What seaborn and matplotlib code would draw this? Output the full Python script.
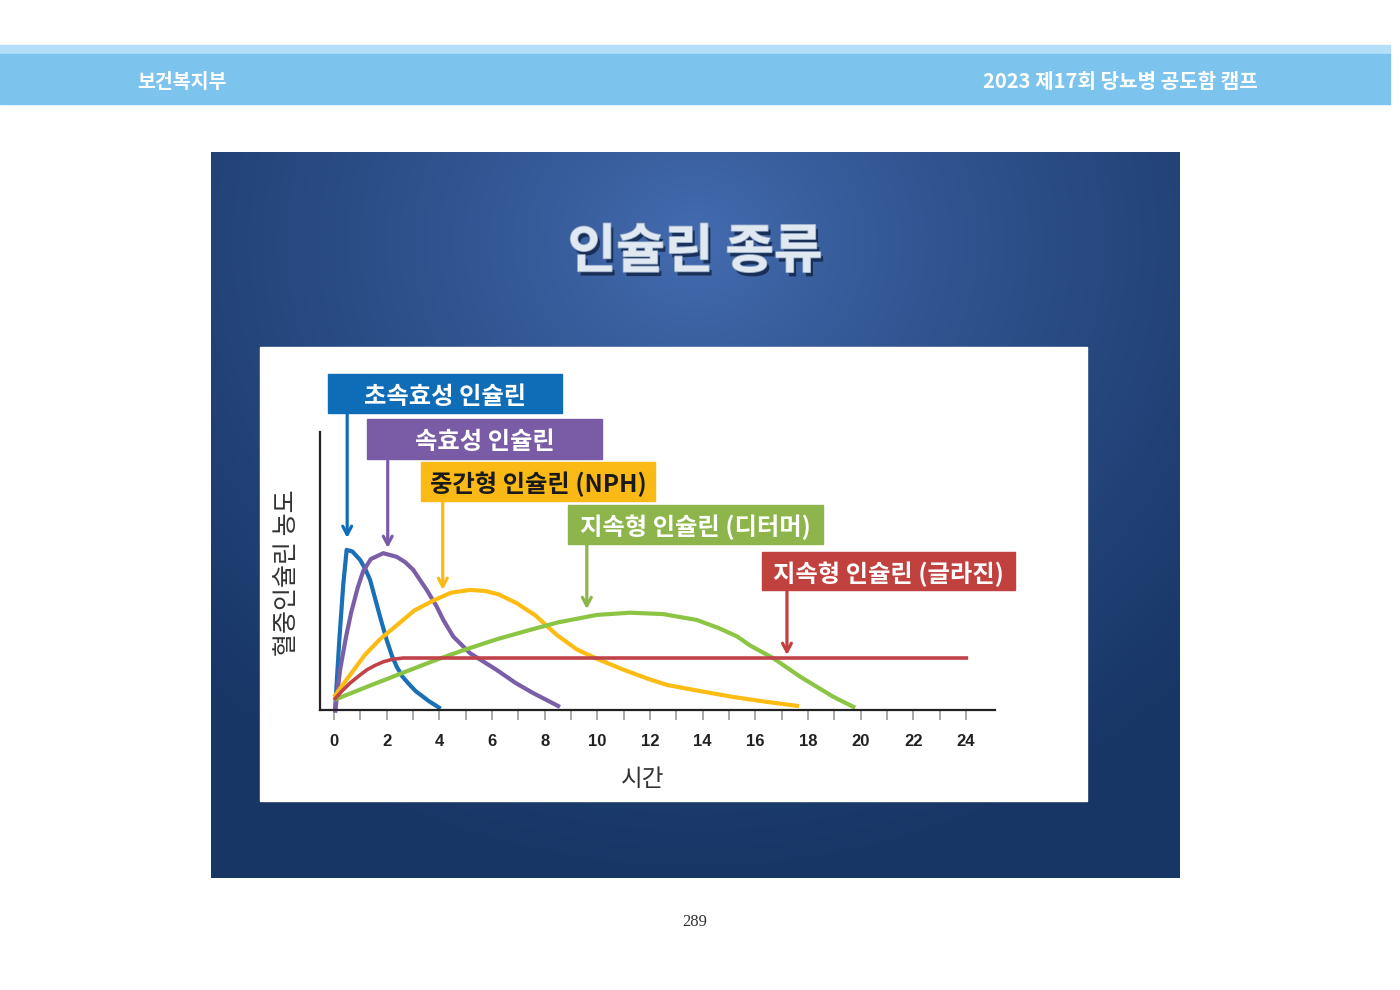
import numpy as np
import pandas as pd
import matplotlib
matplotlib.use('Agg')
import matplotlib.pyplot as plt
import seaborn as sns
from matplotlib.patches import Rectangle
from matplotlib import patheffects as pe
from matplotlib.transforms import blended_transform_factory

# --- data (hours, relative concentration 0-100) ---
insulins = ['초속효성 인슐린', '속효성 인슐린', '중간형 인슐린 (NPH)',
            '지속형 인슐린 (디터머)', '지속형 인슐린 (글라진)']

rapid_h = [0.04, 0.2, 0.35, 0.48, 0.7, 0.99, 1.2, 1.37, 1.55, 1.75, 2.0, 2.2, 2.38, 2.6, 2.85, 3.1, 3.6, 4.05]
rapid_c = [0, 25, 45, 57.6, 57, 54, 50.5, 46.8, 40.5, 33.5, 25.2, 19.5, 15.6, 12, 9.3, 6.8, 3.2, 0.5]

regular_h = [0.04, 0.23, 0.45, 0.65, 0.9, 1.11, 1.4, 1.87, 2.38, 2.7, 3.01, 3.52, 3.9, 4.15, 4.53, 5.17, 6.18, 6.9, 7.56, 8.58]
regular_c = [-1, 14.4, 26, 35, 44, 50, 54.3, 56.4, 55.1, 53.2, 50.4, 43.2, 37.2, 32.4, 26.4, 20.4, 14.4, 9.7, 6.1, 1.1]

nph_h = [0.0, 0.6, 1.17, 1.75, 2.45, 3.05, 3.8, 4.45, 5.17, 5.75, 6.25, 6.94, 7.65, 8.46, 9.22, 9.99,
         10.99, 11.9, 12.65, 13.9, 15.15, 16.45, 17.66]
nph_c = [4.7, 12.5, 19.8, 25.5, 31, 35.8, 39.5, 42.2, 43.2, 42.8, 41.6, 38.4, 34, 27, 21.8, 18.4,
         14.5, 11.3, 9, 6.8, 4.7, 2.9, 1.4]

detemir_h = [0.0, 1.24, 2.51, 3.76, 4.91, 6.2, 7.44, 8.5, 9.98, 11.24, 12.5, 13.77, 14.6, 15.3, 15.8,
             16.67, 17.7, 18.95, 19.79]
detemir_c = [3.6, 8.3, 13, 17.6, 21.5, 25.5, 28.8, 31.5, 34.2, 35, 34.5, 32.4, 29.5, 26.5, 23.2,
             18.7, 12.0, 4.8, 0.8]

glargine_h = [0.0, 0.3, 0.61, 0.95, 1.24, 1.55, 1.86, 2.2, 2.62, 24.08]
glargine_c = [3.6, 6.8, 9.7, 12.3, 14.4, 16.0, 17.3, 18.2, 18.7, 18.7]

# where each label arrow points (hour, concentration)
arrow_h = [0.5, 2.04, 4.13, 9.6, 17.2]
arrow_c = [61.9, 58.3, 43.2, 36.3, 19.8]

tick_hours = list(range(0, 25, 2))
tick_labels = [str(t) for t in tick_hours]

line_colors = ['#1a6fb6', '#7b5ea8', '#fcbc14', '#8cc443', '#c1434a']
box_colors = ['#0f6db8', '#7a5ca6', '#fbb916', '#8db54b', '#c1413f']
box_text_colors = ['white', 'white', '#1a1a1a', 'white', 'white']

series = [(rapid_h, rapid_c), (regular_h, regular_c), (nph_h, nph_c),
          (detemir_h, detemir_c), (glargine_h, glargine_c)]
frames = []
for name, (h, c) in zip(insulins, series):
    frames.append(pd.DataFrame({'hours': h, 'conc': c, 'insulin': name}))
df = pd.concat(frames, ignore_index=True)

sns.set_style('white')
plt.rcParams['font.family'] = ['Noto Sans CJK KR', 'DejaVu Sans']

fig = plt.figure(figsize=(14, 9.9), dpi=100)

# page background in pixel coordinates
bg = fig.add_axes([0, 0, 1, 1])
bg.set_xlim(0, 1400)
bg.set_ylim(990, 0)
bg.axis('off')

# header band
bg.add_patch(Rectangle((0, 45), 1390, 10, color='#b3e0f8', zorder=1))
bg.add_patch(Rectangle((0, 54), 1390, 50, color='#7cc3ee', zorder=1))
bg.text(137, 82, '보건복지부', ha='left', va='center', color='white',
        fontsize=14, fontweight='bold')
bg.text(1258, 82, '2023 제17회 당뇨병 공도함 캠프', ha='right', va='center',
        color='white', fontsize=14.5, fontweight='bold')

# slide with radial gradient
H, W = 726, 969
yy, xx = np.mgrid[0:H, 0:W]
r = np.sqrt(((xx - 484) / 700.0) ** 2 + ((yy - 90) / 640.0) ** 2)
r = np.clip(r, 0, 1) ** 0.8
inner = np.array([0x45, 0x6d, 0xb2]) / 255.0
outer = np.array([0x17, 0x35, 0x65]) / 255.0
img = inner * (1 - r)[..., None] + outer * r[..., None]
bg.imshow(img, extent=[211, 1180, 878, 152], aspect='auto', zorder=0)

bg.text(695, 252, '인슐린 종류', ha='center', va='center', fontsize=38,
        fontweight='bold', color='#e0e8f2',
        path_effects=[pe.withSimplePatchShadow(offset=(2, -3), shadow_rgbFace='#0b1a36', alpha=0.7),
                      pe.Stroke(linewidth=1.2, foreground='#8fa4c2'), pe.Normal()])

# white panel
bg.add_patch(Rectangle((260, 347), 827, 454, color='white', zorder=1))

# label boxes
box_px = [(328, 374, 562, 413), (367, 419, 602, 459), (421, 462, 655, 501),
          (568, 505, 823, 544), (762, 552, 1015, 590)]
for name, (x0, y0, x1, y1), bc, tc in zip(insulins, box_px, box_colors, box_text_colors):
    bg.add_patch(Rectangle((x0, y0), x1 - x0, y1 - y0, color=bc, zorder=2))
    bg.text((x0 + x1) / 2, (y0 + y1) / 2 + 3, name, ha='center', va='center',
            color=tc, fontsize=17.5, fontweight='bold', zorder=3)

bg.text(695, 922, '289', ha='center', va='center', fontsize=12,
        family='Liberation Serif', color='#333333')

# chart
ax = fig.add_axes([320 / 1400, 1 - 710 / 990, 675 / 1400, 278 / 990])
ax.set_facecolor('none')
ax.set_zorder(2)

sns.lineplot(data=df, x='hours', y='conc', hue='insulin', hue_order=insulins,
             palette=line_colors, sort=False, estimator=None, linewidth=3,
             legend=False, ax=ax)
for line in ax.lines:
    line.set_clip_on(False)
    line.set_solid_capstyle('butt')
    line.set_solid_joinstyle('round')
ax.lines[-1].set_linewidth(2.6)

ax.set_xlim(-0.532, 25.1)
ax.set_ylim(0, 100)
sns.despine(ax=ax)
for side in ['left', 'bottom']:
    ax.spines[side].set_color('#222222')
    ax.spines[side].set_linewidth(1.6)

ax.set_yticks([])
ax.set_xticks(tick_hours)
ax.set_xticks(range(1, 25, 2), minor=True)
ax.set_xticklabels(tick_labels, family='Liberation Sans', fontweight='bold',
                   fontsize=12, color='#222222')
ax.tick_params(axis='x', which='both', bottom=True, direction='out', length=7.5,
               width=1.2, color='#9a9a9a', pad=9.5)

ax.set_xlabel('시간', fontsize=17, color='#333333')
ax.xaxis.set_label_coords(0.4785, -0.207)
ax.set_ylabel('혈중인슐린 농도', fontsize=18, color='#333333')
ax.yaxis.set_label_coords(-0.03, 0.493)

# arrows from each label box down to its curve
arrow_from = blended_transform_factory(ax.transData, bg.transData)
for h, c, (x0, y0, x1, y1), bc in zip(arrow_h, arrow_c, box_px, box_colors):
    ax.annotate('', xy=(h, c), xycoords='data', xytext=(h, y1),
                textcoords=arrow_from, annotation_clip=False,
                arrowprops=dict(arrowstyle='->,head_length=0.6,head_width=0.32',
                                color=bc, lw=2.3, shrinkA=0, shrinkB=0))

fig.savefig('out.png', dpi=100)
